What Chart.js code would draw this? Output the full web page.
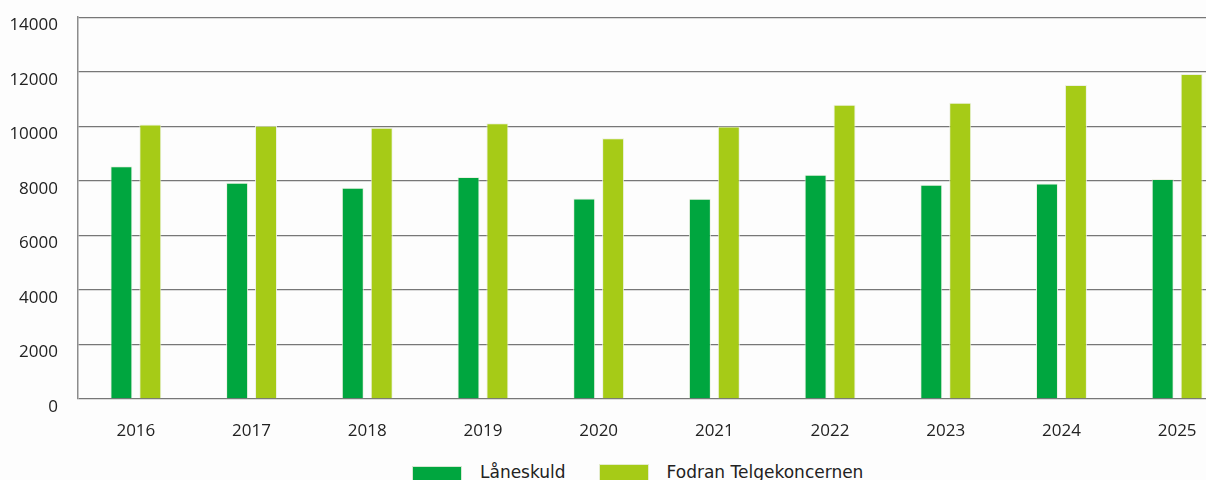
<!DOCTYPE html>
<html>
<head>
<meta charset="utf-8">
<script src="https://cdn.jsdelivr.net/npm/chart.js@4/dist/chart.umd.min.js"></script>
<style>
    html, body { margin: 0; padding: 0; background: #fdfdfd; overflow: hidden; }
    #wrap { position: relative; width: 1206px; height: 480px; overflow: hidden; }
    #chart-box { position: absolute; left: 0; top: -13px; width: 1236px; height: 463px; }
    #legend { position: absolute; left: 412px; top: 461px; display: flex; align-items: center;
              font-family: 'DejaVu Sans', sans-serif; font-size: 17px; color: #222; }
    .legend-item { display: flex; align-items: center; margin-right: 33px; }
    .legend-box { width: 50px; height: 17px; margin-right: 18px; box-sizing: border-box;
                  border: 1px solid rgba(235, 240, 225, 0.9); }
</style>
</head>
<body>
<div id="wrap">
    <div id="chart-box"><canvas id="loanChart"></canvas></div>
    <div id="legend"></div>
</div>
<script>
const years = ['2016', '2017', '2018', '2019', '2020', '2021', '2022', '2023', '2024', '2025'];
const laneskuld = [8530, 7930, 7750, 8140, 7350, 7340, 8220, 7860, 7900, 8070];
const fodran = [10070, 10020, 9950, 10110, 9560, 9990, 10790, 10860, 11510, 11920];
const seriesNames = ['Låneskuld', 'Fodran Telgekoncernen'];
const seriesColors = ['#00a63f', '#a6cb17'];
const yTicks = [0, 2000, 4000, 6000, 8000, 10000, 12000, 14000];

const ctx = document.getElementById('loanChart').getContext('2d');

const loanChart = new Chart(ctx, {
    type: 'bar',
    data: {
        labels: years,
        datasets: [
            {
                label: seriesNames[0],
                data: laneskuld,
                backgroundColor: seriesColors[0],
                borderColor: 'rgba(235, 240, 225, 0.9)',
                borderWidth: 1,
                categoryPercentage: 0.5,
                barPercentage: 0.76
            },
            {
                label: seriesNames[1],
                data: fodran,
                backgroundColor: seriesColors[1],
                borderColor: 'rgba(235, 240, 225, 0.9)',
                borderWidth: 1,
                categoryPercentage: 0.5,
                barPercentage: 0.76
            }
        ]
    },
    options: {
        responsive: true,
        maintainAspectRatio: false,
        animation: false,
        layout: { padding: { top: 4, left: 0, right: 1, bottom: 10 } },
        plugins: {
            legend: { display: false },
            tooltip: { enabled: false }
        },
        scales: {
            x: {
                grid: { display: false },
                border: { display: false },
                ticks: {
                    color: '#222',
                    padding: 14,
                    maxRotation: 0,
                    font: { family: 'Open Sans', size: 17 }
                },
                afterFit: (scale) => { scale.height = 41; }
            },
            y: {
                min: 0,
                max: 14000,
                afterBuildTicks: (scale) => { scale.ticks = yTicks.map(v => ({ value: v })); },
                grid: { color: '#777', lineWidth: 1.3, drawTicks: false },
                border: { display: true, color: '#8c8c8c', width: 1.5 },
                ticks: {
                    color: '#222',
                    padding: 20,
                    labelOffset: 8,
                    font: { family: 'Open Sans', size: 17 },
                    callback: (v) => String(v)
                },
                afterFit: (scale) => { scale.width = 78; }
            }
        }
    }
});

// legend kept outside the canvas so the box-to-text gap matches
const legend = document.getElementById('legend');
legend.innerHTML = loanChart.data.datasets.map((ds, i) => `
    <div class="legend-item">
        <div class="legend-box" style="background:${ds.backgroundColor};${i === 0 ? 'margin-top:5px;' : ''}"></div>
        <span>${ds.label}</span>
    </div>
`).join('');
</script>
</body>
</html>
